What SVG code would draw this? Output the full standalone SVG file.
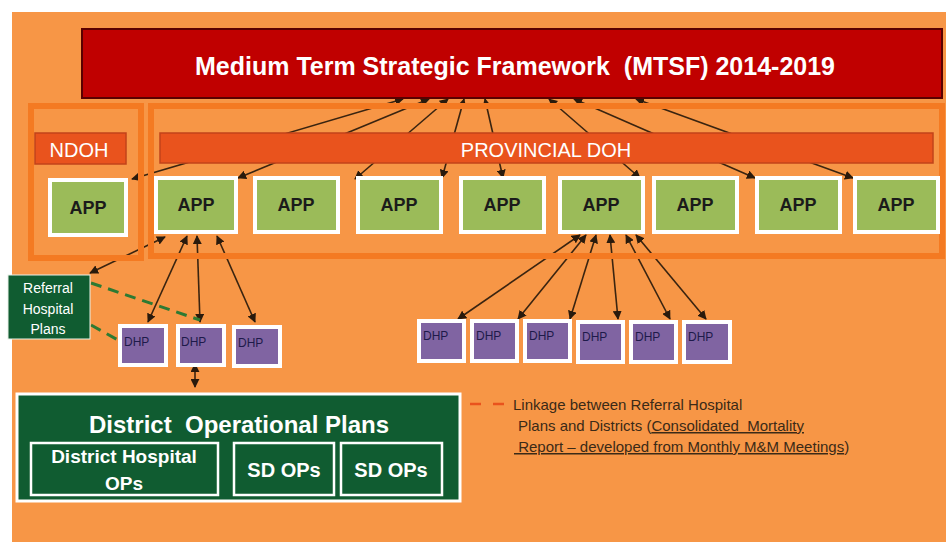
<svg xmlns="http://www.w3.org/2000/svg" width="948" height="544" viewBox="0 0 948 544">
  <defs>
    <marker id="tip" viewBox="0 0 10 10" refX="9" refY="5" markerWidth="9" markerHeight="9" markerUnits="userSpaceOnUse" orient="auto-start-reverse">
      <path d="M0,0 L10,5 L0,10 z" fill="#2a1a0c"/>
    </marker>
    <style>
      .frame { fill: none; stroke: #F47A22; stroke-width: 6; }
      .bar { fill: #E9531D; stroke: #C2431A; stroke-width: 1.5; }
      .barText { font-family: "Liberation Sans", Arial, sans-serif; font-size: 20px; fill: #ffffff; text-anchor: middle; }
      .app rect { fill: #9BBB59; stroke: #ffffff; stroke-width: 4; }
      .app text { font-family: "Liberation Sans", Arial, sans-serif; font-weight: bold; font-size: 18px; fill: #1b1b1b; text-anchor: middle; }
      .dhp rect { fill: #8064A2; stroke: #ffffff; stroke-width: 4; }
      .dhp text { font-family: "Liberation Sans Narrow", "Liberation Sans", Arial, sans-serif; font-size: 12px; fill: #1e1a4a; }
      .link { fill: none; stroke: #3a2410; stroke-width: 1.6; marker-start: url(#tip); marker-end: url(#tip); }
      .green-dash { fill: none; stroke: #2E7A33; stroke-width: 3; stroke-dasharray: 11 7; }
      .dg { fill: #105C31; }
      .white { fill: #ffffff; font-family: "Liberation Sans", Arial, sans-serif; }
      .legend { font-family: "Liberation Sans", Arial, sans-serif; font-size: 15px; fill: #3b2a17; }
      .pre { white-space: pre; }
    </style>
  </defs>

  <!-- page and orange canvas -->
  <rect x="0" y="0" width="948" height="544" fill="#ffffff"/>
  <rect x="12" y="12" width="934" height="530" fill="#F79646"/>

  <!-- connectors -->
  <g id="connectors">
    <!-- MTSF to APPs -->
    <line class="link" x1="403" y1="99" x2="132" y2="179"/>
    <line class="link" x1="429" y1="99" x2="238" y2="178"/>
    <line class="link" x1="448" y1="99" x2="355" y2="179"/>
    <line class="link" x1="464" y1="99" x2="442" y2="178"/>
    <line class="link" x1="485" y1="99" x2="503" y2="178"/>
    <line class="link" x1="549" y1="99" x2="640" y2="178"/>
    <line class="link" x1="574" y1="99" x2="755" y2="178"/>
    <line class="link" x1="636" y1="99" x2="853" y2="178"/>
    <!-- provincial APP to referral plans -->
    <line class="link" x1="165" y1="237" x2="90" y2="273"/>
    <!-- APP to left DHPs -->
    <line class="link" x1="187" y1="236" x2="148" y2="322"/>
    <line class="link" x1="197" y1="236" x2="200" y2="322"/>
    <line class="link" x1="217" y1="236" x2="255" y2="322"/>
    <!-- APP to right DHPs -->
    <line class="link" x1="580" y1="235" x2="458" y2="319"/>
    <line class="link" x1="586" y1="235" x2="518" y2="319"/>
    <line class="link" x1="596" y1="235" x2="570" y2="319"/>
    <line class="link" x1="610" y1="235" x2="618" y2="319"/>
    <line class="link" x1="626" y1="235" x2="670" y2="319"/>
    <line class="link" x1="636" y1="235" x2="706" y2="319"/>
    <!-- DHP to district operational plans -->
    <line class="link" x1="195" y1="364" x2="195" y2="387"/>
    <!-- referral hospital linkage -->
    <line class="green-dash" x1="91" y1="283" x2="200" y2="320"/>
    <line class="green-dash" x1="91" y1="325" x2="118" y2="340"/>
  </g>

  <!-- grouping frames -->
  <rect class="frame" x="31" y="106" width="110" height="152"/>
  <rect class="frame" x="151" y="106" width="791" height="150"/>

  <!-- top framework banner -->
  <g id="mtsf">
    <rect x="82" y="29" width="860" height="69" fill="#C00000" stroke="#5a0000" stroke-width="2"/>
    <text x="515" y="75" class="white pre" font-size="25" font-weight="bold" text-anchor="middle">Medium Term Strategic Framework  (MTSF) 2014-2019</text>
  </g>

  <g id="ndoh">
    <rect class="bar" x="35" y="133" width="91" height="31"/>
    <text class="barText" x="79" y="157">NDOH</text>
  </g>

  <g id="provincial-doh">
    <rect class="bar" x="160" y="133" width="773" height="30"/>
    <text class="barText" x="546" y="157">PROVINCIAL DOH</text>
  </g>

  <!-- annual performance plans -->
  <g id="app-ndoh" class="app"><rect x="50" y="180" width="76" height="55"/><text x="88" y="214">APP</text></g>
  <g id="app-1" class="app"><rect x="156" y="178" width="80" height="54"/><text x="196" y="211">APP</text></g>
  <g id="app-2" class="app"><rect x="255" y="178" width="83" height="54"/><text x="296" y="211">APP</text></g>
  <g id="app-3" class="app"><rect x="358" y="178" width="83" height="54"/><text x="399" y="211">APP</text></g>
  <g id="app-4" class="app"><rect x="461" y="178" width="83" height="54"/><text x="502" y="211">APP</text></g>
  <g id="app-5" class="app"><rect x="560" y="178" width="83" height="54"/><text x="601" y="211">APP</text></g>
  <g id="app-6" class="app"><rect x="654" y="178" width="83" height="54"/><text x="695" y="211">APP</text></g>
  <g id="app-7" class="app"><rect x="757" y="178" width="83" height="54"/><text x="798" y="211">APP</text></g>
  <g id="app-8" class="app"><rect x="855" y="178" width="83" height="54"/><text x="896" y="211">APP</text></g>

  <!-- referral hospital plans -->
  <g id="referral-plans">
    <rect x="8" y="275" width="82" height="64" class="dg" stroke="#e8f0e8" stroke-width="1"/>
    <text class="white" font-size="14" text-anchor="middle" x="48" y="293">Referral</text>
    <text class="white" font-size="14" text-anchor="middle" x="48" y="314">Hospital</text>
    <text class="white" font-size="14" text-anchor="middle" x="48" y="334">Plans</text>
  </g>

  <!-- district health plans -->
  <g id="dhp-1" class="dhp"><rect x="120" y="326" width="46" height="39"/><text x="124" y="346">DHP</text></g>
  <g id="dhp-2" class="dhp"><rect x="178" y="326" width="46" height="39"/><text x="181" y="346">DHP</text></g>
  <g id="dhp-3" class="dhp"><rect x="234" y="327" width="46" height="39"/><text x="238" y="347">DHP</text></g>
  <g id="dhp-4" class="dhp"><rect x="419" y="321" width="45" height="40"/><text x="423" y="340">DHP</text></g>
  <g id="dhp-5" class="dhp"><rect x="472" y="321" width="45" height="40"/><text x="476" y="340">DHP</text></g>
  <g id="dhp-6" class="dhp"><rect x="525" y="321" width="45" height="40"/><text x="529" y="340">DHP</text></g>
  <g id="dhp-7" class="dhp"><rect x="578" y="322" width="45" height="40"/><text x="582" y="341">DHP</text></g>
  <g id="dhp-8" class="dhp"><rect x="631" y="322" width="45" height="40"/><text x="635" y="341">DHP</text></g>
  <g id="dhp-9" class="dhp"><rect x="684" y="322" width="46" height="40"/><text x="688" y="341">DHP</text></g>

  <!-- district operational plans -->
  <g id="district-ops">
    <rect x="17" y="394" width="443" height="107" class="dg" stroke="#ffffff" stroke-width="3"/>
    <text class="white pre" font-size="24" font-weight="bold" text-anchor="middle" x="239" y="433">District  Operational Plans</text>
  </g>
  <g id="district-hospital-ops">
    <rect x="31" y="443" width="187" height="52" fill="none" stroke="#ffffff" stroke-width="2.5"/>
    <text class="white" font-size="19" font-weight="bold" text-anchor="middle" x="124" y="463">District Hospital</text>
    <text class="white" font-size="19" font-weight="bold" text-anchor="middle" x="124" y="490">OPs</text>
  </g>
  <g id="sd-ops-1">
    <rect x="234" y="443" width="100" height="52" fill="none" stroke="#ffffff" stroke-width="2.5"/>
    <text class="white" font-size="20" font-weight="bold" text-anchor="middle" x="284" y="477">SD OPs</text>
  </g>
  <g id="sd-ops-2">
    <rect x="341" y="443" width="101" height="52" fill="none" stroke="#ffffff" stroke-width="2.5"/>
    <text class="white" font-size="20" font-weight="bold" text-anchor="middle" x="391" y="477">SD OPs</text>
  </g>

  <!-- legend -->
  <g id="legend">
    <line x1="470" y1="404" x2="506" y2="404" stroke="#E9531D" stroke-width="2.5" stroke-dasharray="11 12"/>
    <text class="legend" x="513" y="410">Linkage between Referral Hospital</text>
    <text class="legend pre" x="518" y="431">Plans and Districts (<tspan text-decoration="underline">Consolidated  Mortality</tspan></text>
    <text class="legend pre" x="514" y="452"><tspan text-decoration="underline"> Report – developed from Monthly M&amp;M Meetings</tspan>)</text>
  </g>
</svg>
